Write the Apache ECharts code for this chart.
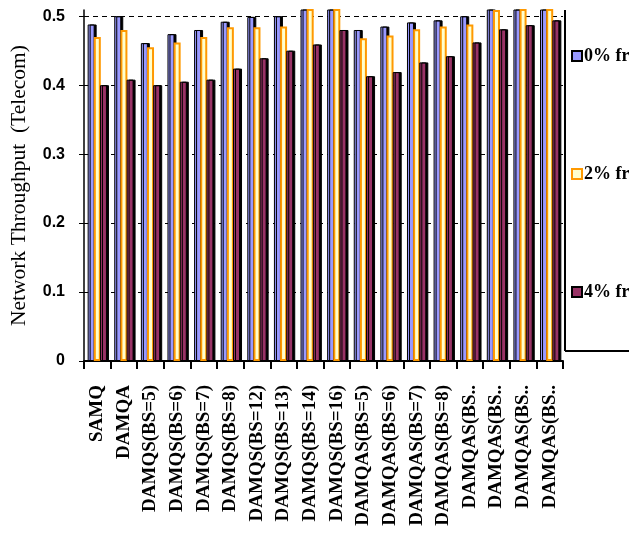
<!DOCTYPE html>
<html><head><meta charset="utf-8">
<script src="https://cdn.jsdelivr.net/npm/echarts@6/dist/echarts.min.js"></script>
<style>html,body{margin:0;padding:0;background:#fff}#c{width:629px;height:537px}</style>
</head><body><div id="c"></div>
<script>
const categories = ['SAMQ','DAMQA','DAMQS(BS=5)','DAMQS(BS=6)','DAMQS(BS=7)','DAMQS(BS=8)','DAMQS(BS=12)','DAMQS(BS=13)','DAMQS(BS=14)','DAMQS(BS=16)','DAMQAS(BS=5)','DAMQAS(BS=6)','DAMQAS(BS=7)','DAMQAS(BS=8)','DAMQAS(BS..','DAMQAS(BS..','DAMQAS(BS..','DAMQAS(BS..'];
const seriesNames = ['0% fr','2% fr','4% fr'];
const fr0 = [0.488,0.500,0.461,0.474,0.480,0.492,0.499,0.500,0.530,0.535,0.480,0.485,0.491,0.494,0.500,0.525,0.535,0.545];
const fr2 = [0.470,0.480,0.455,0.462,0.470,0.484,0.484,0.485,0.520,0.525,0.468,0.472,0.481,0.485,0.488,0.509,0.520,0.530];
const fr4 = [0.400,0.408,0.400,0.405,0.408,0.424,0.439,0.450,0.459,0.480,0.413,0.419,0.433,0.442,0.462,0.481,0.487,0.494];

const chart = echarts.init(document.getElementById('c'), null, {renderer:'canvas'});
chart.setOption({
  animation:false,
  grid:{left:82, right:66, top:10, bottom:176},
  legend:{
    orient:'vertical', left:566, top:42, itemGap:100, itemWidth:10, itemHeight:10,
    data:seriesNames,
    textStyle:{fontFamily:'Liberation Serif', fontWeight:'bold', fontSize:18, color:'#000', padding:[0,0,0,-3]},
    icon:'rect'
  },
  xAxis:{
    type:'category', data:categories,
    axisLine:{lineStyle:{color:'#000', width:2}},
    axisTick:{show:true, length:8, lineStyle:{color:'#000', width:2}},
    axisLabel:{rotate:90, fontSize:19, margin:24, interval:0, fontFamily:'Liberation Serif', fontWeight:'bold', color:'#000'}
  },
  yAxis:{
    type:'value', min:0, max:0.509, interval:0.1,
    name:'Network Throughput  (Telecom)', nameLocation:'middle', nameGap:54,
    nameTextStyle:{fontFamily:'Liberation Serif', fontSize:21.5, color:'#000'},
    axisLine:{show:true, lineStyle:{color:'#000', width:1.5}},
    axisTick:{show:true, length:5, lineStyle:{color:'#000'}},
    axisLabel:{fontFamily:'Liberation Sans', fontWeight:'bold', fontSize:16, color:'#000', margin:19, showMaxLabel:false,
      formatter:v=>v===0?'0':v.toFixed(1)},
    splitLine:{show:true, showMaxLine:false, lineStyle:{color:'#000', type:[5,4], width:1}}
  },
  series:[
    {name:seriesNames[0], type:'bar', data:fr0, barWidth:7, barGap:'-12%',
     itemStyle:{color:'#9999FF', borderColor:'#000', borderWidth:1, shadowColor:'#000', shadowOffsetX:2, shadowBlur:0}},
    {name:seriesNames[1], type:'bar', data:fr2, barWidth:7, barGap:'-12%',
     itemStyle:{color:'#FFFFCC', borderColor:'#FF9900', borderWidth:2}},
    {name:seriesNames[2], type:'bar', data:fr4, barWidth:7, barGap:'-12%',
     itemStyle:{color:'#993366', borderColor:'#000', borderWidth:1, shadowColor:'#000', shadowOffsetX:2, shadowBlur:0}}
  ],
  graphic:[
    {type:'line', shape:{x1:565, y1:10, x2:565, y2:351}, style:{stroke:'#000', lineWidth:2}},
    {type:'line', shape:{x1:565, y1:351, x2:629, y2:351}, style:{stroke:'#000', lineWidth:2}}
  ]
});
</script></body></html>
